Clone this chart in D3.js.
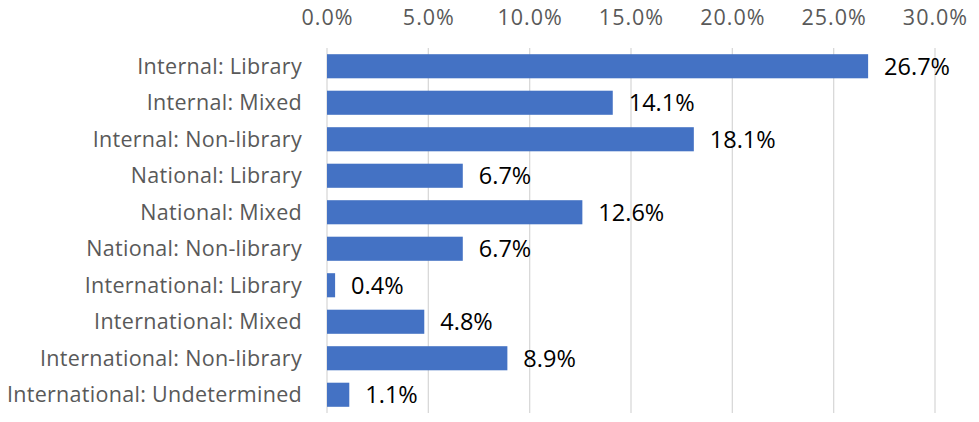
<!DOCTYPE html>
<html>
<head>
<meta charset="utf-8">
<script src="https://cdn.jsdelivr.net/npm/d3@7"></script>
<style>
  body { margin: 0; background: #fff; }
  .tick text { font-family: "Open Sans", sans-serif; }
</style>
</head>
<body>
<svg width="979" height="422"></svg>
<script>
const categories = [
  'Internal: Library',
  'Internal: Mixed',
  'Internal: Non-library',
  'National: Library',
  'National: Mixed',
  'National: Non-library',
  'International: Library',
  'International: Mixed',
  'International: Non-library',
  'International: Undetermined'
];
const shares = [26.7, 14.1, 18.1, 6.7, 12.6, 6.7, 0.4, 4.8, 8.9, 1.1];
const xTicks = [0, 5, 10, 15, 20, 25, 30];

const svg = d3.select('svg');
const margins = { top: 48, left: 327, right: 44, bottom: 9 };
const width = +svg.attr('width');
const height = +svg.attr('height');

const xScale = d3.scaleLinear()
  .domain([0, 30])
  .range([margins.left, width - margins.right]);

const yScale = d3.scaleBand()
  .domain(categories)
  .range([margins.top, height - margins.bottom])
  .paddingInner(0.34)
  .paddingOuter(0.17);

// vertical gridlines
svg.append('g')
  .selectAll('line')
  .data(xTicks)
  .enter()
  .append('line')
    .attr('x1', d => xScale(d))
    .attr('x2', d => xScale(d))
    .attr('y1', margins.top)
    .attr('y2', height - margins.bottom)
    .attr('stroke', '#d9d9d9')
    .attr('stroke-width', 1.3);

// top axis labels
const xAxis = d3.axisTop(xScale)
  .tickValues(xTicks)
  .tickFormat(d => d.toFixed(1) + '%')
  .tickSize(0)
  .tickPadding(0);
const xAxisGroup = svg.append('g')
  .attr('transform', 'translate(0, 25)')
  .call(xAxis);
xAxisGroup.select('path.domain').remove();
xAxisGroup.selectAll('text')
  .attr('fill', '#595959')
  .attr('font-size', 21.5)
  .attr('letter-spacing', 1);

// category labels
const yAxis = d3.axisLeft(yScale).tickSize(0).tickPadding(25);
const yAxisGroup = svg.append('g')
  .attr('transform', `translate(${margins.left}, 0)`)
  .call(yAxis);
yAxisGroup.select('path.domain').remove();
yAxisGroup.selectAll('text')
  .attr('fill', '#595959')
  .attr('font-size', 21.5)
  .attr('letter-spacing', 0.3)
  .attr('dy', '0.34em');

// bars
svg.append('g')
  .selectAll('rect')
  .data(shares)
  .enter()
  .append('rect')
    .attr('x', xScale(0))
    .attr('y', (d, i) => yScale(categories[i]))
    .attr('width', d => xScale(d) - xScale(0))
    .attr('height', yScale.bandwidth())
    .attr('fill', '#4472c4');

// value labels
svg.append('g')
  .selectAll('text')
  .data(shares)
  .enter()
  .append('text')
    .attr('x', d => xScale(d) + 16)
    .attr('y', (d, i) => yScale(categories[i]) + yScale.bandwidth() / 2)
    .attr('dy', '0.36em')
    .attr('font-family', '"Open Sans", sans-serif')
    .attr('font-size', 23.5)
    .attr('fill', '#000')
    .text(d => d.toFixed(1) + '%');
</script>
</body>
</html>
